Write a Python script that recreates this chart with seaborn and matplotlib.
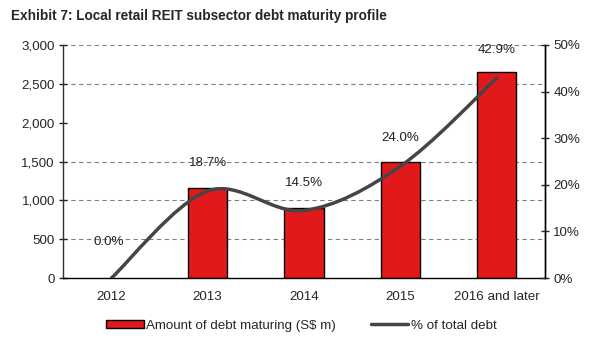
#Debt maturity profile chart: bars for amounts, smooth line for share of total

#Import modules
import matplotlib
matplotlib.use('Agg')
import matplotlib.pyplot as plt
from matplotlib.path import Path
from matplotlib.patches import PathPatch, Patch
from matplotlib.lines import Line2D
import pandas as pd
import seaborn as sb

#Data
years = ['2012', '2013', '2014', '2015', '2016 and later']
debt_maturing = [0, 1160, 900, 1495, 2655]
pct_total = [0.0, 18.7, 14.5, 24.0, 42.9]
pct_labels = ['0.0%', '18.7%', '14.5%', '24.0%', '42.9%']

df = pd.DataFrame({'Year': years, 'Debt': debt_maturing, 'Pct': pct_total})

sb.set_style('white')
plt.rcParams['font.family'] = ['Liberation Sans', 'DejaVu Sans']

red = '#E2191B'
grey = '#454545'
fs = 9.6

fig, ax = plt.subplots(figsize = (5.91, 3.57), dpi = 100)
fig.subplots_adjust(left = 0.107, right = 0.922, top = 0.874, bottom = 0.221)

#Bars
sb.barplot(data = df, x = 'Year', y = 'Debt', color = red, edgecolor = 'black',
           linewidth = 1.0, width = 0.41, saturation = 1, ax = ax)
#Zero-height bar leaves no outline in the original
for bar in ax.patches:
    if bar.get_height() == 0:
        bar.set_visible(False)
ax.set_xlim(-0.5, len(years) - 0.5)
ax.set_ylim(0, 3000)
ax.set_yticks(range(0, 3001, 500))
ax.set_yticklabels([f'{v:,}' for v in range(0, 3001, 500)])
ax.set_xlabel('')
ax.set_ylabel('')

#Dashed gridlines (2,000 has none in the original)
ax.grid(axis = 'y', color = '#808080', linestyle = (0, (4, 3)), linewidth = 0.8)
for gl, v in zip(ax.get_ygridlines(), ax.get_yticks()):
    if v == 2000:
        gl.set_visible(False)
ax.set_axisbelow(True)

#Tick marks on category boundaries
ax.set_xticks([i - 0.5 for i in range(1, len(years))], minor = True)
ax.tick_params(axis = 'x', which = 'major', length = 0, pad = 9, labelsize = fs)
ax.tick_params(axis = 'x', which = 'minor', length = 7, direction = 'inout', width = 1)
ax.tick_params(axis = 'y', length = 6, direction = 'inout', width = 1, labelsize = fs, pad = 3)
ax.spines['top'].set_visible(False)
for s in ['left', 'bottom', 'right']:
    ax.spines[s].set_color('black')
    ax.spines[s].set_linewidth(1)
ax.spines['left'].set_color('#303030')

#Secondary axis for the percentage line
ax2 = ax.twinx()
ax2.set_ylim(0, 50)
ax2.set_yticks(range(0, 51, 10))
ax2.set_yticklabels([f'{v}%' for v in range(0, 51, 10)])
ax2.tick_params(axis = 'y', length = 6, direction = 'inout', width = 1, labelsize = fs, pad = 3)
for s in ['top', 'left', 'bottom']:
    ax2.spines[s].set_visible(False)
ax2.spines['right'].set_color('black')
ax2.spines['right'].set_linewidth(1)
ax2.grid(False)

#Smooth line (Catmull-Rom style bezier through the data points)
xs = list(range(len(years)))
pts = list(zip(xs, pct_total))
verts = [pts[0]]
codes = [Path.MOVETO]
for i in range(len(pts) - 1):
    p0 = pts[i - 1] if i > 0 else pts[i]
    p1 = pts[i]
    p2 = pts[i + 1]
    p3 = pts[i + 2] if i + 2 < len(pts) else pts[i + 1]
    c1 = (p1[0] + (p2[0] - p0[0]) / 6, p1[1] + (p2[1] - p0[1]) / 6)
    c2 = (p2[0] - (p3[0] - p1[0]) / 6, p2[1] - (p3[1] - p1[1]) / 6)
    verts += [c1, c2, p2]
    codes += [Path.CURVE4] * 3
ax2.add_patch(PathPatch(Path(verts, codes), facecolor = 'none', edgecolor = grey,
                        linewidth = 2.5, capstyle = 'round'))

#Percentage labels above the points
for x, y, lab in zip(xs, pct_total, pct_labels):
    ax2.annotate(lab, (x, y), xytext = (-2 if y == 0 else 0, 26 if y == 0 else 20),
                 textcoords = 'offset points', ha = 'center', va = 'center',
                 fontsize = fs, color = '#222222')

#Title
fig.text(0.018, 0.955, 'Exhibit 7: Local retail REIT subsector debt maturity profile',
         fontsize = 9.8, fontweight = 'bold', ha = 'left', va = 'center')

#Legend below the chart
handles = [Patch(facecolor = red, edgecolor = 'black', linewidth = 1.0),
           Line2D([], [], color = grey, linewidth = 2.5)]
fig.legend(handles, ['Amount of debt maturing (S$ m)', '% of total debt'],
           loc = 'center', bbox_to_anchor = (0.51, 0.087), ncol = 2, frameon = False,
           fontsize = fs, handlelength = 2.8, handleheight = 0.6, handletextpad = 0.2,
           columnspacing = 2.6)

plt.savefig('out.png', dpi = 100)
